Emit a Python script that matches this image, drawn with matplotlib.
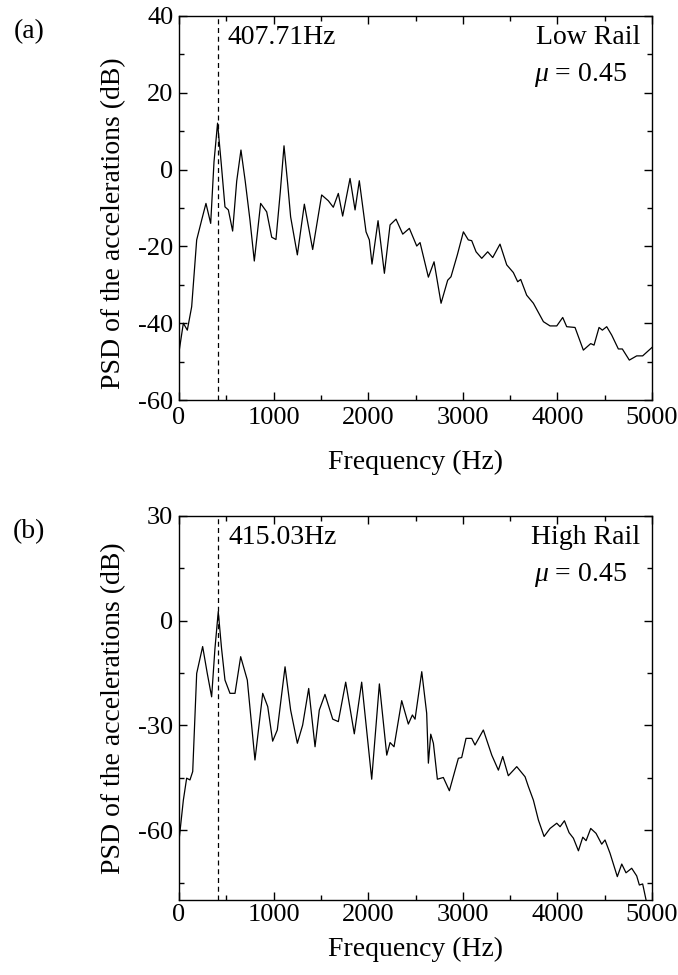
import matplotlib.pyplot as plt
from matplotlib.ticker import MultipleLocator

plt.rcParams['font.family'] = ['Liberation Serif', 'DejaVu Serif']
plt.rcParams['mathtext.fontset'] = 'custom'
plt.rcParams['mathtext.it'] = 'Liberation Serif:italic'
plt.rcParams['mathtext.rm'] = 'Liberation Serif'
plt.rcParams['axes.unicode_minus'] = False

# panel (a): low rail
freq_low = [0, 46, 88, 134, 187, 240, 285, 335, 370, 407.71, 445, 486, 522, 567,
            610, 655, 700, 750, 796, 863, 927, 980, 1025, 1070, 1110, 1150, 1180,
            1251, 1325, 1413, 1508, 1578, 1631, 1684, 1730, 1808, 1861, 1906,
            1977, 2012, 2040, 2104, 2171, 2231, 2294, 2365, 2435, 2513, 2548,
            2636, 2696, 2770, 2840, 2875, 2942, 3006, 3058, 3094, 3140, 3200,
            3263, 3316, 3393, 3464, 3534, 3580, 3612, 3675, 3746, 3852, 3922,
            3993, 4056, 4098, 4186, 4274, 4352, 4387, 4440, 4475, 4521, 4574,
            4644, 4686, 4760, 4838, 4901, 5000]
psd_low = [-47.5, -40, -41.8, -35.7, -18.3, -13.1, -8.8, -14, 2, 12.1, 2, -9.7,
           -10.5, -16, -3, 5.1, -3, -13.1, -23.8, -8.8, -11, -17.6, -18.2, -6,
           6.2, -4, -12.3, -22.2, -9, -20.8, -6.6, -8.1, -9.8, -6.2, -12.1, -2.3,
           -10.5, -2.9, -16.2, -18.3, -24.6, -13.3, -27, -14.4, -12.9, -16.8,
           -15.3, -19.9, -19, -28, -24, -34.8, -28.8, -27.9, -22.2, -16.2, -18.3,
           -18.5, -21.4, -23.1, -21.4, -22.9, -19.4, -24.8, -26.8, -29.2, -28.6,
           -32.7, -34.8, -39.6, -40.7, -40.7, -38.5, -40.9, -41.1, -47, -45.3,
           -45.7, -41.1, -41.8, -40.9, -43.1, -46.7, -46.7, -49.6, -48.5, -48.5,
           -46.3]

# panel (b): high rail
freq_high = [0, 46, 81, 116, 145, 187, 250, 299, 345, 380, 415.03, 450, 486, 539,
             592, 652, 722, 803, 885, 938, 990, 1039, 1121, 1180, 1251, 1307,
             1371, 1438, 1483, 1543, 1625, 1684, 1762, 1853, 1931, 2037, 2118,
             2196, 2231, 2273, 2354, 2424, 2467, 2495, 2566, 2618, 2636, 2661,
             2689, 2731, 2794, 2858, 2953, 2988, 3034, 3094, 3129, 3217, 3306,
             3376, 3422, 3481, 3570, 3658, 3693, 3746, 3799, 3859, 3922, 3993,
             4028, 4074, 4123, 4169, 4222, 4268, 4303, 4352, 4408, 4468, 4503,
             4556, 4633, 4680, 4725, 4785, 4838, 4866, 4901, 4937]
psd_high = [-63, -51.4, -45.1, -45.6, -43.2, -15.1, -7.4, -15.1, -21.8, -8, 2.6,
            -8, -17, -20.8, -20.8, -10.3, -17, -39.9, -20.8, -24.6, -34.5, -31.3,
            -13.2, -25.6, -35.1, -29.9, -19.4, -36.1, -25.6, -21.1, -28.2, -28.9,
            -17.6, -32.4, -17.6, -45.4, -18.1, -38.5, -34.9, -36.1, -22.9, -29.6,
            -27, -28.2, -14.6, -26.5, -40.8, -32.5, -35.1, -45.4, -44.9, -48.7,
            -39.4, -39.2, -33.7, -33.7, -35.6, -31.3, -38.5, -42.8, -38.9, -44.4,
            -41.8, -44.7, -47.5, -51.4, -57.1, -61.8, -59.5, -58, -59, -57.3,
            -60.7, -62.3, -65.9, -62, -63, -59.5, -60.9, -64, -62.8, -66.6,
            -73.3, -69.7, -72.2, -70.9, -73.1, -75.7, -75.4, -80]

peaks = [407.71, 415.03]
rails = ['Low Rail', 'High Rail']
letters = ['(a)', '(b)']

fig = plt.figure(figsize=(6.78, 9.75), dpi=100)
ax1 = fig.add_axes([0.264, 0.5897, 0.6977, 0.3939])
ax2 = fig.add_axes([0.264, 0.0769, 0.6977, 0.3939])

# axes, x, y, ylim, major, minor, ylabel pos, xtick pad, xlabel pad
panels = [
    (ax1, freq_low, psd_low, (-60, 40), 20, 10, 0.46, 5, 15),
    (ax2, freq_high, psd_high, (-80, 30), 30, 15, 0.5, 3, 8),
]

fs = 20
for i, (ax, f, p, ylim, major, minor, ylab_pos, xpad, lpad) in enumerate(panels):
    ax.plot(f, p, color='black', linewidth=0.9)
    ax.axvline(peaks[i], color='black', linestyle=(0, (4, 3)), linewidth=0.9)
    ax.set_xlim(0, 5000)
    ax.set_ylim(ylim)
    ax.xaxis.set_major_locator(MultipleLocator(1000))
    ax.xaxis.set_minor_locator(MultipleLocator(500))
    ax.yaxis.set_major_locator(MultipleLocator(major))
    ax.yaxis.set_minor_locator(MultipleLocator(minor))
    ax.tick_params(which='both', direction='in', top=True, right=True,
                   labelsize=fs - 1, width=1, pad=4)
    ax.tick_params(axis='x', which='both', pad=xpad)
    ax.tick_params(which='major', length=6)
    ax.tick_params(which='minor', length=3.5)
    for s in ax.spines.values():
        s.set_linewidth(1)
    ax.set_xlabel('Frequency (Hz)', fontsize=fs, labelpad=lpad)
    ax.set_ylabel('PSD of the accelerations (dB)', fontsize=fs)
    ax.yaxis.set_label_coords(-0.112, ylab_pos)

    ax.text(peaks[i] + 110, 0.943, f'{peaks[i]:.2f}Hz', transform=ax.get_xaxis_transform(),
            fontsize=fs, ha='left', va='center')
    ax.text(0.975, 0.943, rails[i], transform=ax.transAxes, fontsize=fs,
            ha='right', va='center')
    ax.text(0.947, 0.846, r'$\mu$ = 0.45', transform=ax.transAxes, fontsize=fs,
            ha='right', va='center')

fig.text(0.043, 0.968, letters[0], fontsize=fs, ha='center', va='center')
fig.text(0.043, 0.455, letters[1], fontsize=fs, ha='center', va='center')

fig.savefig('out.png', dpi=100)
